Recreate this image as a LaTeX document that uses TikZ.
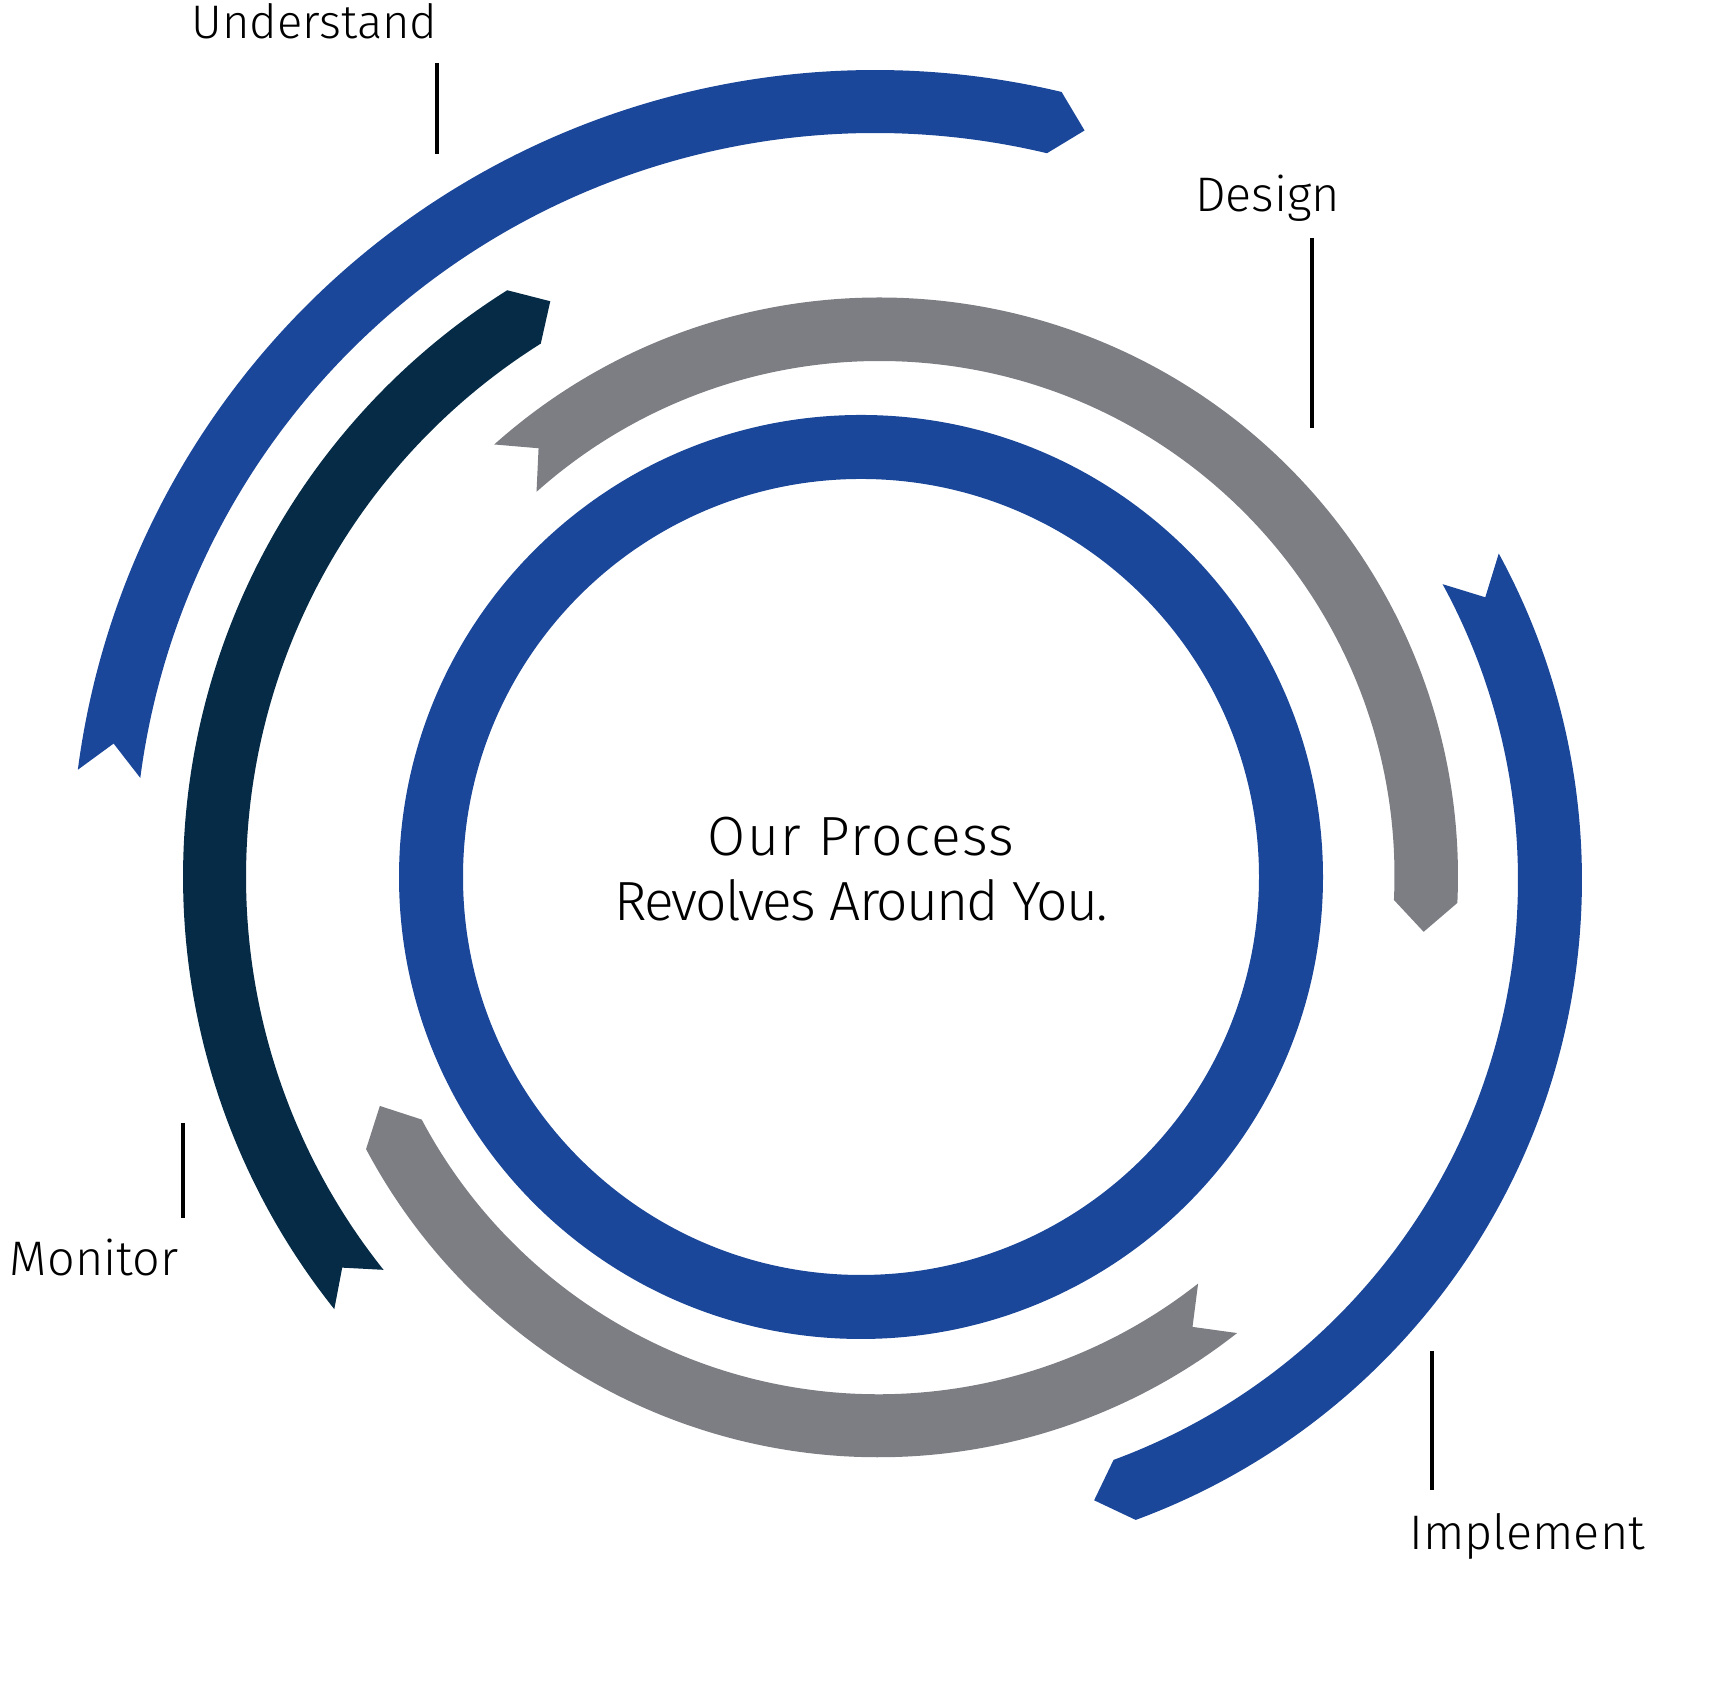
\documentclass[tikz,border=0pt]{standalone}
\usepackage{fontspec}
\setmainfont{Fira Sans Light}
\newfontfamily\widefont[LetterSpace=3]{Fira Sans Light}
\newfontfamily\tightfont[LetterSpace=-3.3]{Fira Sans Light}
\usepackage{xcolor}
\usetikzlibrary{positioning}

\definecolor{ringblue}{RGB}{26,71,153}
\definecolor{ringgray}{RGB}{124,126,131}
\definecolor{ringnavy}{RGB}{5,43,70}

\begin{document}
\begin{tikzpicture}[ x = 0.01cm
                   , y = 0.01cm
                   , phase/.style = { inner sep = 0pt
                                    , font = \fontsize{13.8}{16}\selectfont }
                   , headline/.style = { inner sep = 0pt
                                       , font = \fontsize{15.7}{19}\selectfont }
                   , tick/.style = { line width = 0.035cm }
                   ]

  \useasboundingbox (0,0) rectangle (1724,1695);

  % inner ring
  \fill[ringblue, even odd rule] (861,818) circle[radius=462] (861,818) circle[radius=398];

  % understand
  \begin{scope}[shift={(875,821)}]
    \fill[ringblue] (172.55:804) arc[start angle=172.55, end angle=76.58, radius=804]
      -- ({76.58-2.32}:772.5) -- (76.58:741)
      arc[start angle=76.58, end angle=172.55, radius=741]
      -- ({172.55-2.27}:772.5) -- cycle;
  \end{scope}

  % design
  \begin{scope}[shift={(879.5,819)}]
    \fill[ringgray] (131.76:578.5) arc[start angle=131.76, end angle=-2.67, radius=578.5]
      -- ({-2.67-3.19}:547) -- (-2.67:515)
      arc[start angle=-2.67, end angle=131.76, radius=515]
      -- ({131.76-3.2}:547) -- cycle;
  \end{scope}

  % implement
  \begin{scope}[shift={(900,815)}]
    \fill[ringblue] (28.6:682) arc[start angle=28.6, end angle=-69.78, radius=682]
      -- ({-69.78-2.84}:650) -- (-69.78:618)
      arc[start angle=-69.78, end angle=28.6, radius=618]
      -- ({28.6-2.82}:650) -- cycle;
  \end{scope}

  % lower grey
  \begin{scope}[shift={(878.4,817.7)}]
    \fill[ringgray] (-51.8:580) arc[start angle=-51.8, end angle=-152.05, radius=580]
      -- ({-152.05-3.31}:548.5) -- (-152.05:517)
      arc[start angle=-152.05, end angle=-51.8, radius=517]
      -- ({-51.8-3.26}:548.5) -- cycle;
  \end{scope}

  % monitor
  \begin{scope}[shift={(876,818)}]
    \fill[ringnavy] (218.58:693) arc[start angle=218.58, end angle=122.15, radius=693]
      -- ({122.15-2.65}:661.5) -- (122.15:630)
      arc[start angle=122.15, end angle=218.58, radius=630]
      -- ({218.58-2.38}:661.5) -- cycle;
  \end{scope}

  \node (process) [headline, anchor=base] at (861,839) {\widefont Our Process};
  \node (you) [headline, anchor=base] at (861,774) {\tightfont Revolves Around You.};

  \node (understand) [phase, anchor=base east, font=\fontsize{13.4}{16}\selectfont]
    at (438,1656) {Understand};
  \node (design) [phase, anchor=base east] at (1341,1483) {Design};
  \node (monitor) [phase, anchor=base east] at (179,419) {Monitor};
  \node (implement) [phase, anchor=base west] at (1409,145) {Implement};

  \draw[tick] (437,1632) -- (437,1541);
  \draw[tick] (1312,1457) -- (1312,1267);
  \draw[tick] (183,572) -- (183,477);
  \draw[tick] (1432,344) -- (1432,205);

\end{tikzpicture}
\end{document}
